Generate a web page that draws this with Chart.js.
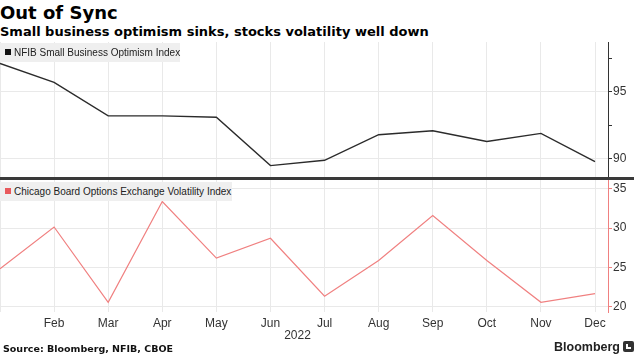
<!DOCTYPE html>
<html>
<head>
<meta charset="utf-8">
<script src="https://cdn.jsdelivr.net/npm/chart.js@4"></script>
<style>
  html, body { margin:0; padding:0; background:#fff; }
  #wrap { position:relative; width:634px; height:356px; overflow:hidden; font-family:"DejaVu Sans", sans-serif; }
  .title { position:absolute; left:0; top:2px; font-weight:bold; font-size:18px; color:#000; line-height:22px; white-space:nowrap; }
  .sub { position:absolute; left:0; top:23px; font-weight:bold; font-size:13px; color:#000; line-height:17px; white-space:nowrap; }
  canvas { position:absolute; left:0; }
  .legend { position:absolute; left:0; height:19px; background:#efefef; font-family:"Liberation Sans", sans-serif; font-size:10px; line-height:19px; color:#222; white-space:nowrap; padding-left:14px; box-sizing:border-box; }
  .legend i { position:absolute; left:5px; top:6px; width:6px; height:6px; }
  .sep { position:absolute; left:0; top:177px; width:634px; height:3px; background:#3a3a3a; }
  .src { position:absolute; left:3px; top:342px; font-weight:bold; font-size:9.5px; color:#111; line-height:13px; white-space:nowrap; }
  .logo { position:absolute; left:554px; top:340px; font-family:"Liberation Sans", sans-serif; font-weight:bold; font-size:12.5px; color:#222; line-height:15px; white-space:nowrap; }
  .logo b { position:relative; display:inline-block; width:11px; height:11px; background:#333; border-radius:2px; margin-left:3px; vertical-align:-1px; }
  .logo b::after { content:""; position:absolute; left:3px; top:3px; width:5px; height:5px; border-left:2px solid #fff; border-bottom:2px solid #fff; box-sizing:border-box; }
</style>
</head>
<body>
<div id="wrap">
  <div class="title">Out of Sync</div>
  <div class="sub">Small business optimism sinks, stocks volatility well down</div>
  <canvas id="top" width="634" height="136" style="top:42px;width:634px;height:136px"></canvas>
  <canvas id="bot" width="634" height="170" style="top:178px;width:634px;height:170px"></canvas>
  <div class="sep"></div>
  <div class="legend" style="top:43px;width:180px"><i style="background:#111"></i>NFIB Small Business Optimism Index</div>
  <div class="legend" style="top:182px;width:232px"><i style="background:#e8595c"></i>Chicago Board Options Exchange Volatility Index</div>
  <div class="src">Source: Bloomberg, NFIB, CBOE</div>
  <div class="logo">Bloomberg<b></b></div>
</div>
<script>
const months = ['Jan','Feb','Mar','Apr','May','Jun','Jul','Aug','Sep','Oct','Nov','Dec'];
const yearLabel = '2022';
const nfib = [97.1, 95.7, 93.2, 93.2, 93.1, 89.5, 89.9, 91.8, 92.1, 91.3, 91.9, 89.8];
const vix  = [24.83, 30.15, 20.56, 33.40, 26.19, 28.71, 21.33, 25.87, 31.62, 25.88, 20.56, 21.67];
const nfibTicks = [90, 92.5, 95, 97.5];
const vixTicks = [20, 25, 30, 35];

const GRID = '#e9e9e9';
const PINK = '#f08080';

function noPad(s) { s.paddingTop = 0; s.paddingBottom = 0; s.paddingLeft = 0; s.paddingRight = 0; }

function xScale(showLabels) {
  return {
    type: 'linear', min: 0, max: 11.24,
    afterBuildTicks: s => { s.ticks = months.map((m, i) => ({ value: i })); },
    afterFit: s => { s.height = showLabels ? 36 : 0; noPad(s); },
    border: { display: false },
    grid: { color: GRID, drawTicks: false, lineWidth: 1 },
    ticks: {
      display: showLabels, autoSkip: false, maxRotation: 0, padding: 4,
      color: '#333', font: { family: 'Liberation Sans', size: 12 },
      callback: v => (v === 0 ? '' : months[v])
    }
  };
}

function yScale(min, max, tickVals, axisColor, gridFn) {
  return {
    type: 'linear', position: 'right', min, max,
    afterBuildTicks: s => { s.ticks = tickVals.map(v => ({ value: v })); },
    afterFit: s => { s.width = 26; noPad(s); },
    border: { display: true, color: axisColor, width: 1 },
    grid: { color: gridFn, tickColor: axisColor, tickLength: 4, drawTicks: true },
    ticks: {
      padding: 1, color: '#333', font: { family: 'Liberation Sans', size: 12 },
      callback: v => (v % 5 === 0 ? String(v) : '')
    }
  };
}

const yearPlugin = {
  id: 'yearLabel',
  afterDraw(chart) {
    const xs = chart.scales.x;
    const ctx = chart.ctx;
    ctx.save();
    ctx.font = '12px "Liberation Sans"';
    ctx.fillStyle = '#333';
    ctx.textAlign = 'center';
    ctx.textBaseline = 'middle';
    ctx.fillText(yearLabel, xs.getPixelForValue(5.5), chart.chartArea.bottom + 24);
    ctx.restore();
  }
};

Chart.defaults.animation = false;

new Chart(document.getElementById('top'), {
  type: 'line',
  data: { datasets: [{ data: nfib.map((v, i) => ({ x: i, y: v })), borderColor: '#2b2b2b', borderWidth: 1.4, pointRadius: 0, fill: false, tension: 0 }] },
  options: {
    responsive: false, animation: false,
    layout: { padding: 0 },
    plugins: { legend: { display: false }, tooltip: { enabled: false } },
    scales: {
      x: xScale(false),
      y: yScale(88.58, 98.70, nfibTicks, '#333', c => (c.tick && c.tick.value % 5 === 0 ? GRID : 'rgba(0,0,0,0)'))
    }
  }
});

new Chart(document.getElementById('bot'), {
  type: 'line',
  data: { datasets: [{ data: vix.map((v, i) => ({ x: i, y: v })), borderColor: PINK, borderWidth: 1.2, pointRadius: 0, fill: false, tension: 0 }] },
  options: {
    responsive: false, animation: false,
    layout: { padding: 0 },
    plugins: { legend: { display: false }, tooltip: { enabled: false } },
    scales: {
      x: xScale(true),
      y: yScale(19.32, 36.39, vixTicks, PINK, () => GRID)
    }
  },
  plugins: [yearPlugin]
});
</script>
</body>
</html>
